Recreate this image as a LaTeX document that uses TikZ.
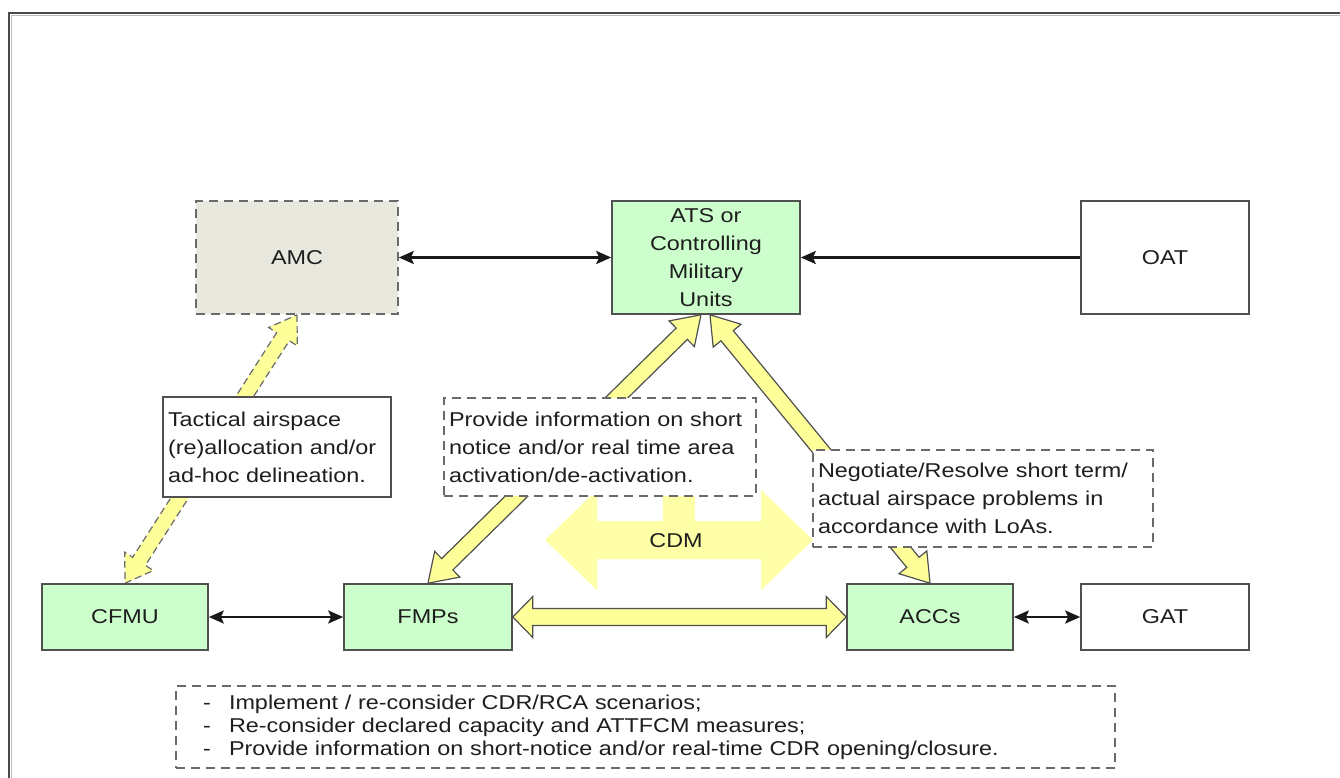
\documentclass[tikz,border=0pt]{standalone}
\usepackage{fontspec}
\setmainfont{Liberation Sans}[FakeStretch=1.17]
\usetikzlibrary{calc,arrows.meta}
\definecolor{boxgreen}{HTML}{CCFFCC}
\definecolor{amcgray}{HTML}{E8E8DE}
\definecolor{arrowyellow}{HTML}{FFFF99}
\definecolor{cdmyellow}{HTML}{FFFFA8}
\definecolor{bordercol}{HTML}{505050}
\definecolor{dashcol}{HTML}{6A6A6A}
\definecolor{textcol}{HTML}{1E1E1E}
\definecolor{framecol}{HTML}{4A4A4A}
\pgfdeclarelayer{bg}
\pgfsetlayers{bg,main}
% double fat arrow polygon: #1 style, #2 A, #3 B, #4 shaft half width, #5 head half width, #6 head length
\newcommand\fatarrow[6]{%
  \path[#1] (#2)
    -- ($(#2)!#6!(#3)!#5!90:(#3)$)
    -- ($(#2)!#6!(#3)!#4!90:(#3)$)
    -- ($(#3)!#6!(#2)!#4!-90:(#2)$)
    -- ($(#3)!#6!(#2)!#5!-90:(#2)$)
    -- (#3)
    -- ($(#3)!#6!(#2)!#5!90:(#2)$)
    -- ($(#3)!#6!(#2)!#4!90:(#2)$)
    -- ($(#2)!#6!(#3)!#4!-90:(#3)$)
    -- ($(#2)!#6!(#3)!#5!-90:(#3)$)
    -- cycle;}
\begin{document}
\begin{tikzpicture}[x=1pt,y=-1pt,
  mainbox/.style={draw=bordercol, line width=1.6pt, inner sep=0pt, align=center,
    text=textcol, font={\fontsize{20pt}{28pt}\selectfont}},
  solidbox/.style={draw=bordercol, line width=1.6pt, fill=white, align=left,
    inner xsep=5pt, inner ysep=0pt, text=textcol, font={\fontsize{20pt}{28pt}\selectfont}},
  dashbox/.style={draw=dashcol, line width=1.6pt, dash pattern=on 9pt off 6pt},
  lblbox/.style={solidbox, dashbox, fill=white},
  conn/.style={line width=2.6pt, draw=black!90, {Stealth[length=15pt,width=13pt,inset=3pt]}-{Stealth[length=15pt,width=13pt,inset=3pt]}},
  connone/.style={line width=2.6pt, draw=black!90, -{Stealth[length=15pt,width=13pt,inset=3pt]}},
  fat/.style={fill=arrowyellow, draw=bordercol, line width=1.2pt, line join=miter},
  fatdash/.style={fat, draw=dashcol, dash pattern=on 7pt off 4pt},
  cdmstyle/.style={fill=cdmyellow, draw=none}
]
\useasboundingbox (0,0) rectangle (1340,778);

% main nodes
\node[mainbox, dashbox, fill=amcgray, minimum width=202pt, minimum height=113pt] (AMC) at (297,257.5) {AMC};
\node[mainbox, fill=boxgreen, minimum width=188pt, minimum height=113pt] (ATS) at (706,257.5) {ATS or\\Controlling\\Military\\Units};
\node[mainbox, fill=white, minimum width=168pt, minimum height=113pt] (OAT) at (1165,257.5) {OAT};
\node[mainbox, fill=boxgreen, minimum width=166pt, minimum height=66pt] (CFMU) at (125,617) {CFMU};
\node[mainbox, fill=boxgreen, minimum width=168pt, minimum height=66pt] (FMPs) at (428,617) {FMPs};
\node[mainbox, fill=boxgreen, minimum width=166pt, minimum height=66pt] (ACCs) at (930,617) {ACCs};
\node[mainbox, fill=white, minimum width=168pt, minimum height=66pt] (GAT) at (1165,617) {GAT};

\coordinate (atsL) at ([xshift=-5pt]ATS.south);
\coordinate (atsR) at ([xshift=4pt]ATS.south);
\coordinate (cdmL) at (545,540);
\coordinate (cdmR) at (813,540);

% background, frame and fat arrows behind
\begin{pgfonlayer}{bg}
  \fill[white] (0,0) rectangle (1340,778);
  \draw[line width=1.5pt, color=black!25] (11.5,778) -- (11.5,15.5) -- (1340,15.5);
  \draw[line width=2.5pt, color=framecol] (9,778) -- (9,13) -- (1340,13);
  \fill[cdmyellow] (663,470) rectangle (695,530);
  \fatarrow{cdmstyle}{cdmL}{cdmR}{19pt}{50pt}{52pt}
  \fatarrow{fatdash}{AMC.south}{CFMU.north}{7.5pt}{17pt}{26pt}
  \fatarrow{fat}{atsL}{FMPs.north}{8pt}{18pt}{27pt}
  \fatarrow{fat}{atsR}{ACCs.north}{8pt}{18pt}{27pt}
  \fatarrow{fat}{FMPs.east}{ACCs.west}{8.5pt}{20.5pt}{20pt}
\end{pgfonlayer}
\node[font={\fontsize{20pt}{24pt}\selectfont}, text=textcol] (CDM) at (676,541) {CDM};

% label boxes
\node[solidbox, text width=218pt, minimum height=100pt] (tact) at (277,447)
  {Tactical airspace\\(re)allocation and/or\\ad-hoc delineation.};
\node[lblbox, text width=302pt, minimum height=98pt] (prov) at (600,447)
  {Provide information on short\\notice and/or real time area\\activation/de-activation.};
\node[lblbox, text width=330pt, minimum height=97pt] (nego) at (983,498.5)
  {Negotiate/Resolve short term/\\actual airspace problems in\\accordance with LoAs.};
\node[lblbox, inner xsep=24pt, text width=891pt, minimum height=82pt,
  font={\fontsize{20pt}{23pt}\selectfont}] (list) at (645.5,727)
  {\makebox[29pt][l]{\hspace{3pt}-}Implement / re-consider CDR/RCA scenarios;\\
   \makebox[29pt][l]{\hspace{3pt}-}Re-consider declared capacity and ATTFCM measures;\\
   \makebox[29pt][l]{\hspace{3pt}-}Provide information on short-notice and/or real-time CDR opening/closure.};

% thin connectors
\draw[conn] (AMC.east) -- (ATS.west);
\draw[connone] (OAT.west) -- (ATS.east);
\draw[conn] (CFMU.east) -- (FMPs.west);
\draw[conn] (ACCs.east) -- (GAT.west);
\end{tikzpicture}
\end{document}
